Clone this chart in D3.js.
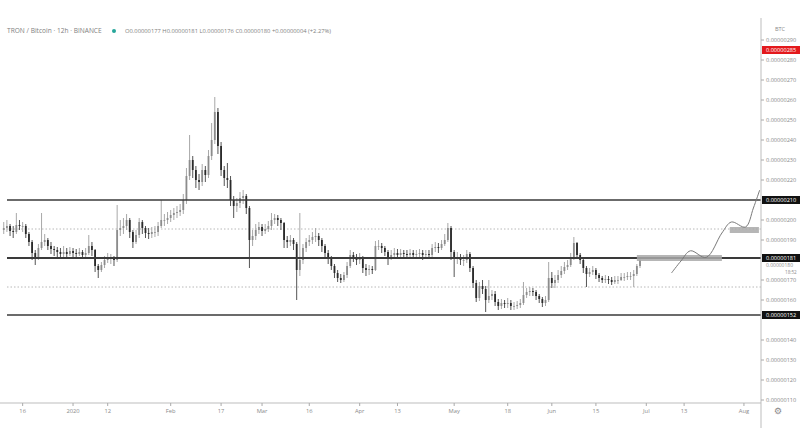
<!DOCTYPE html>
<html><head><meta charset="utf-8">
<script src="https://cdn.jsdelivr.net/npm/d3@7"></script>
<style>html,body{margin:0;padding:0;background:#fff;}svg{display:block;}</style>
</head><body><svg id="c" width="805" height="428"></svg>
<script>
// ---------- DATA (prices in units of 1e-8 BTC) ----------
const startDay = "2019-12-10";          // first daily candle
const firstOpen = 195;
const closes = [
196,197,194.5,194,197.5,197,197,193,189,183.5,
181,186,189,190,187,185.5,185,184,183,184,
183,184.5,183.5,183,184,182.5,183.5,187,185,177,
175,177.5,180,181,181,180,195,196,197,200,
194,189,192.5,199,196,193.5,193,194,194,197,
200,200,201,202.5,203.5,204,205,210,222,230,
225,220,219,225,222.5,232,240,254,237,225,
221,220,210,207,208.5,211,212,206,190,192,
195,196.5,194.5,195.5,197,200,201,200,198.5,190,
189,190,188,175,180,186,189,190,191.5,192,
190,187,183.5,180.5,177,173.5,171,170,172.5,177,
182.5,181,180,181,176,175,175.5,175,187,187,
186,184,181.5,182.5,183.5,182.5,183.5,183,182.5,183.5,
182.5,183,183.5,182.5,183,182.5,186,186.5,186,188,
190,196,184,181,181.5,180,180,183,176,168.5,
161,167,165.5,160,162,163,159,157,158.5,158,
158.5,157,157,157.5,158.5,162.5,164,164.5,164,162,
160.5,158.5,160,171,168.5,170,172.5,174.5,176.5,177.5,
181,188.5,182.5,180,176,173,174,175,172.5,171,
170,170.5,170,169,170,170,171.5,171.5,172,172,
173,177,180];
const highs = [
199,200,198,197,203.5,200,199,198,194,190,
185,188,203.5,193,191,189,187,186.5,186,187,
186,186.5,186,185.5,186,185,186,192.5,189,185.5,
178,179,182,183.5,183,182,207.5,200,201,203,
201,195,195,201,200,197,196,196.5,197,199,
210,203,204,205,206,207,208,213,226,242.5,
232,227,223,228,227,235,248.5,261.5,256,239,
227,228.5,222,212,211,214,215,213,207,195,
198,199,198,198,199.5,203.5,203,202.5,201,199,
192,192.5,191,189,203.5,188,191,192.5,194,196,
193.5,191,188,185,182,178,175,173,174,179,
185,184,183,183.5,182,178,177.5,177,189.5,190,
188.5,187,185,185,186,185.5,185.5,185,185,185.5,
185,185,185.5,185,185,185,188,189,188.5,190,
193,198.5,197,185,184,183,182.5,185,184,177,
170,169,170,167,170,165,164.5,160.5,160.5,160,
161,160,159,159.5,160.5,169,166,166.5,166,165,
163,161.5,162,179,174,172.5,175,177,179,180,
183.5,191.5,189,183.5,181,177,176,177,176,173.5,
172,172.5,172,171.5,172,172,173.5,173.5,174,174,
175,178,181];
const lows = [
193,194,192,191,193,195,194,191,187,180,
177.5,180,185,187,185,183,182,181.5,181,181.5,
181,182,181,181,182,181,181.5,182.5,182,174,
171,174,176,178.5,178,177,179,192,193,195,
191,186,188,191,193,191,190.5,191,191.5,192,
196,197,198,199,200,201,202,203,208,220,
221,216,215,217,219,221,230,238,233,222,
217,216,207,201,204,206,208,203,176,187,
190,193,192,193,194,195,198,197,195,186,
186,187,185,160,172,178,184,187,188,189,
187,184,181,178,175,171,169,168.5,169,171,
176,179,177.5,178,173.5,172,172.5,173,174.5,185,
183.5,182,177.5,180,181,180.5,181,181,180.5,181,
180.5,181,181,180,181,180.5,181.5,184,183.5,185,
187,189,180,171.5,178,177.5,177,178.5,174,166,
159,159.5,163,154,158.5,160,157,155,155.5,156,
156,155,155,155.5,156,157.5,161,162,162,160,
158.5,156.5,157,159,166,166,168.5,171,173,175,
176.5,180,180.5,178,173.5,166.5,171.5,172.5,170.5,169,
168.5,168.5,168,167.5,168,168,169.5,169.5,170,170,
166.5,172,176];

// horizontal levels
const levelValues = [210, 181, 152.5];
const levelLabels = ["0.00000210", "0.00000181", "0.00000152"];
const midLevelValues = [195.5, 166.5];

// projection path & zones
const projDates  = ["2020-07-09","2020-07-12","2020-07-15","2020-07-20","2020-07-25","2020-07-28","2020-08-01T12:00","2020-08-04","2020-08-06"];
const projValues = [173.5, 179.5, 184.6, 181.3, 193.5, 199, 196.5, 206, 215];
const zoneStarts = ["2020-06-28", "2020-07-27T12:00"];
const zoneEnds   = ["2020-07-25", "2020-08-05T18:00"];
const zoneLow    = [179.5, 193.5];
const zoneHigh   = [182.5, 196.5];

// axes
const yTickValues = [110,120,130,140,150,160,170,180,190,200,210,220,230,240,250,260,270,280,290];
const xTickDates  = ["2019-12-16","2020-01-01","2020-01-12","2020-02-01","2020-02-17","2020-03-01","2020-03-16","2020-04-01","2020-04-13","2020-05-01","2020-05-18","2020-06-01","2020-06-15","2020-07-01","2020-07-13","2020-08-01"];
const xTickLabels = ["16","2020","12","Feb","17","Mar","16","Apr","13","May","18","Jun","15","Jul","13","Aug"];

const redLabelValue = 285, redLabelText = "0.00000285";
const headerTitle = "TRON / Bitcoin · 12h · BINANCE";
const headerOHLC = "O0.00000177 H0.00000181 L0.00000176 C0.00000180 +0.00000004 (+2.27%)";

// ---------- DRAW ----------
const svg = d3.select("#c");
const parse = s => new Date(s.length > 10 ? s : s + "T00:00");
const x = d3.scaleTime().domain([parse("2019-12-09"), parse("2020-08-06")]).range([0.6, 759.7]);
const y = d3.scaleLinear().domain([105, 300]).range([410, 20]);
const axisX = 761, axisY = 403;
const fmt = v => "0.00000" + Math.round(v);
const font = "'Open Sans', 'DejaVu Sans', sans-serif";

const days = d3.timeDay.range(parse(startDay), d3.timeDay.offset(parse(startDay), closes.length));
const candles = days.map((d, i) => ({d, o: i ? closes[i-1] : firstOpen, c: closes[i], h: highs[i], l: lows[i]}));

// mid dotted levels
svg.append("g").selectAll("line").data(midLevelValues).join("line")
  .attr("x1", 7).attr("x2", axisX).attr("y1", d => y(d)).attr("y2", d => y(d))
  .attr("stroke", "#b8b8b8").attr("stroke-width", 1).attr("stroke-dasharray", "1.5,2");

// candles
const up = "#8c8c8c", dn = "#2a2a2a";
const cg = svg.append("g");
cg.selectAll("line").data(candles).join("line")
  .attr("x1", d => x(d.d)).attr("x2", d => x(d.d))
  .attr("y1", d => y(d.h)).attr("y2", d => y(d.l))
  .attr("stroke", d => d.c >= d.o ? "#a8a8a8" : "#555").attr("stroke-width", 1);
cg.selectAll("rect").data(candles).join("rect")
  .attr("x", d => x(d.d) - 0.9).attr("width", 1.8)
  .attr("y", d => y(Math.max(d.o, d.c)))
  .attr("height", d => Math.max(0.8, Math.abs(y(d.o) - y(d.c))))
  .attr("fill", d => d.c >= d.o ? up : dn);

// solid levels
svg.append("g").selectAll("line").data(levelValues).join("line")
  .attr("x1", 7).attr("x2", axisX).attr("y1", d => y(d)).attr("y2", d => y(d))
  .attr("stroke", "#3a3a3a").attr("stroke-width", (d, i) => i === 1 ? 2 : 1.5);

// zones
svg.append("g").selectAll("rect").data(zoneStarts).join("rect")
  .attr("x", (d, i) => x(parse(d))).attr("width", (d, i) => x(parse(zoneEnds[i])) - x(parse(d)))
  .attr("y", (d, i) => y(zoneHigh[i])).attr("height", (d, i) => y(zoneLow[i]) - y(zoneHigh[i]))
  .attr("fill", "#a9a9a9").attr("opacity", 0.85);

// projection path
const proj = projDates.map((d, i) => [x(parse(d)), y(projValues[i])]);
svg.append("path").attr("d", d3.line().curve(d3.curveCatmullRom.alpha(0.5))(proj))
  .attr("fill", "none").attr("stroke", "#7a7a7a").attr("stroke-width", 1);

// axes lines
svg.append("line").attr("x1", axisX).attr("x2", axisX).attr("y1", 18).attr("y2", 428).attr("stroke", "#bdbdbd");
svg.append("line").attr("x1", 0).attr("x2", axisX).attr("y1", axisY).attr("y2", axisY).attr("stroke", "#bdbdbd");

// y ticks
const hidden = v => levelValues.some(l => Math.abs(y(l) - y(v)) < 7);
const yt = svg.append("g").selectAll("g").data(yTickValues.filter(v => !hidden(v))).join("g")
  .attr("transform", d => `translate(0,${y(d)})`);
yt.append("line").attr("x1", axisX).attr("x2", axisX + 3).attr("stroke", "#aaa");
yt.append("text").attr("x", axisX + 5).attr("dy", "0.35em").text(d => fmt(d))
  .attr("font-family", font).attr("font-size", 5.6).attr("fill", "#8a8a8a");

// level price boxes
const lb = svg.append("g").selectAll("g").data(levelValues).join("g")
  .attr("transform", d => `translate(${axisX + 1},${y(d)})`);
lb.append("rect").attr("x", 0).attr("y", -4).attr("width", 38).attr("height", 8).attr("fill", "#111");
lb.append("text").attr("x", 4).attr("dy", "0.35em").text((d, i) => levelLabels[i])
  .attr("font-family", font).attr("font-size", 5.6).attr("fill", "#fff");

// red label
const rl = svg.append("g").attr("transform", `translate(${axisX + 1},${y(redLabelValue)})`);
rl.append("rect").attr("y", -4).attr("width", 38).attr("height", 8).attr("fill", "#e3191c");
rl.append("text").attr("x", 4).attr("dy", "0.35em").text(redLabelText)
  .attr("font-family", font).attr("font-size", 5.6).attr("fill", "#fff");

// current close + countdown under the 181 box
svg.append("text").attr("x", axisX + 5).attr("y", y(closes[closes.length-1]) + 7).text(fmt(closes[closes.length-1]))
  .attr("font-family", font).attr("font-size", 5).attr("fill", "#8a8a8a");
svg.append("text").attr("x", axisX + 24).attr("y", y(closes[closes.length-1]) + 14).text("18:52")
  .attr("font-family", font).attr("font-size", 4.6).attr("fill", "#8a8a8a");

// x ticks
const xt = svg.append("g").selectAll("g").data(xTickDates).join("g")
  .attr("transform", d => `translate(${x(parse(d))},${axisY})`);
xt.append("line").attr("y1", 0).attr("y2", 3).attr("stroke", "#aaa");
xt.append("text").attr("y", 10).attr("text-anchor", "middle").text((d, i) => xTickLabels[i])
  .attr("font-family", font).attr("font-size", 5.8).attr("fill", "#8a8a8a");

// header
svg.append("text").attr("x", 7).attr("y", 33).text(headerTitle)
  .attr("font-family", font).attr("font-size", 6.6).attr("fill", "#808080");
svg.append("circle").attr("cx", 114).attr("cy", 31).attr("r", 2).attr("fill", "#26a69a");
svg.append("text").attr("x", 125).attr("y", 33).text(headerOHLC)
  .attr("font-family", font).attr("font-size", 5.8).attr("fill", "#808080");
svg.append("text").attr("x", 780).attr("y", 31).attr("text-anchor", "middle").text("BTC")
  .attr("font-family", font).attr("font-size", 5.6).attr("fill", "#8a8a8a");
svg.append("text").attr("x", 778).attr("y", 414).attr("text-anchor", "middle").text("⚙")
  .attr("font-family", "'DejaVu Sans', sans-serif").attr("font-size", 9).attr("fill", "#888");
</script></body></html>
